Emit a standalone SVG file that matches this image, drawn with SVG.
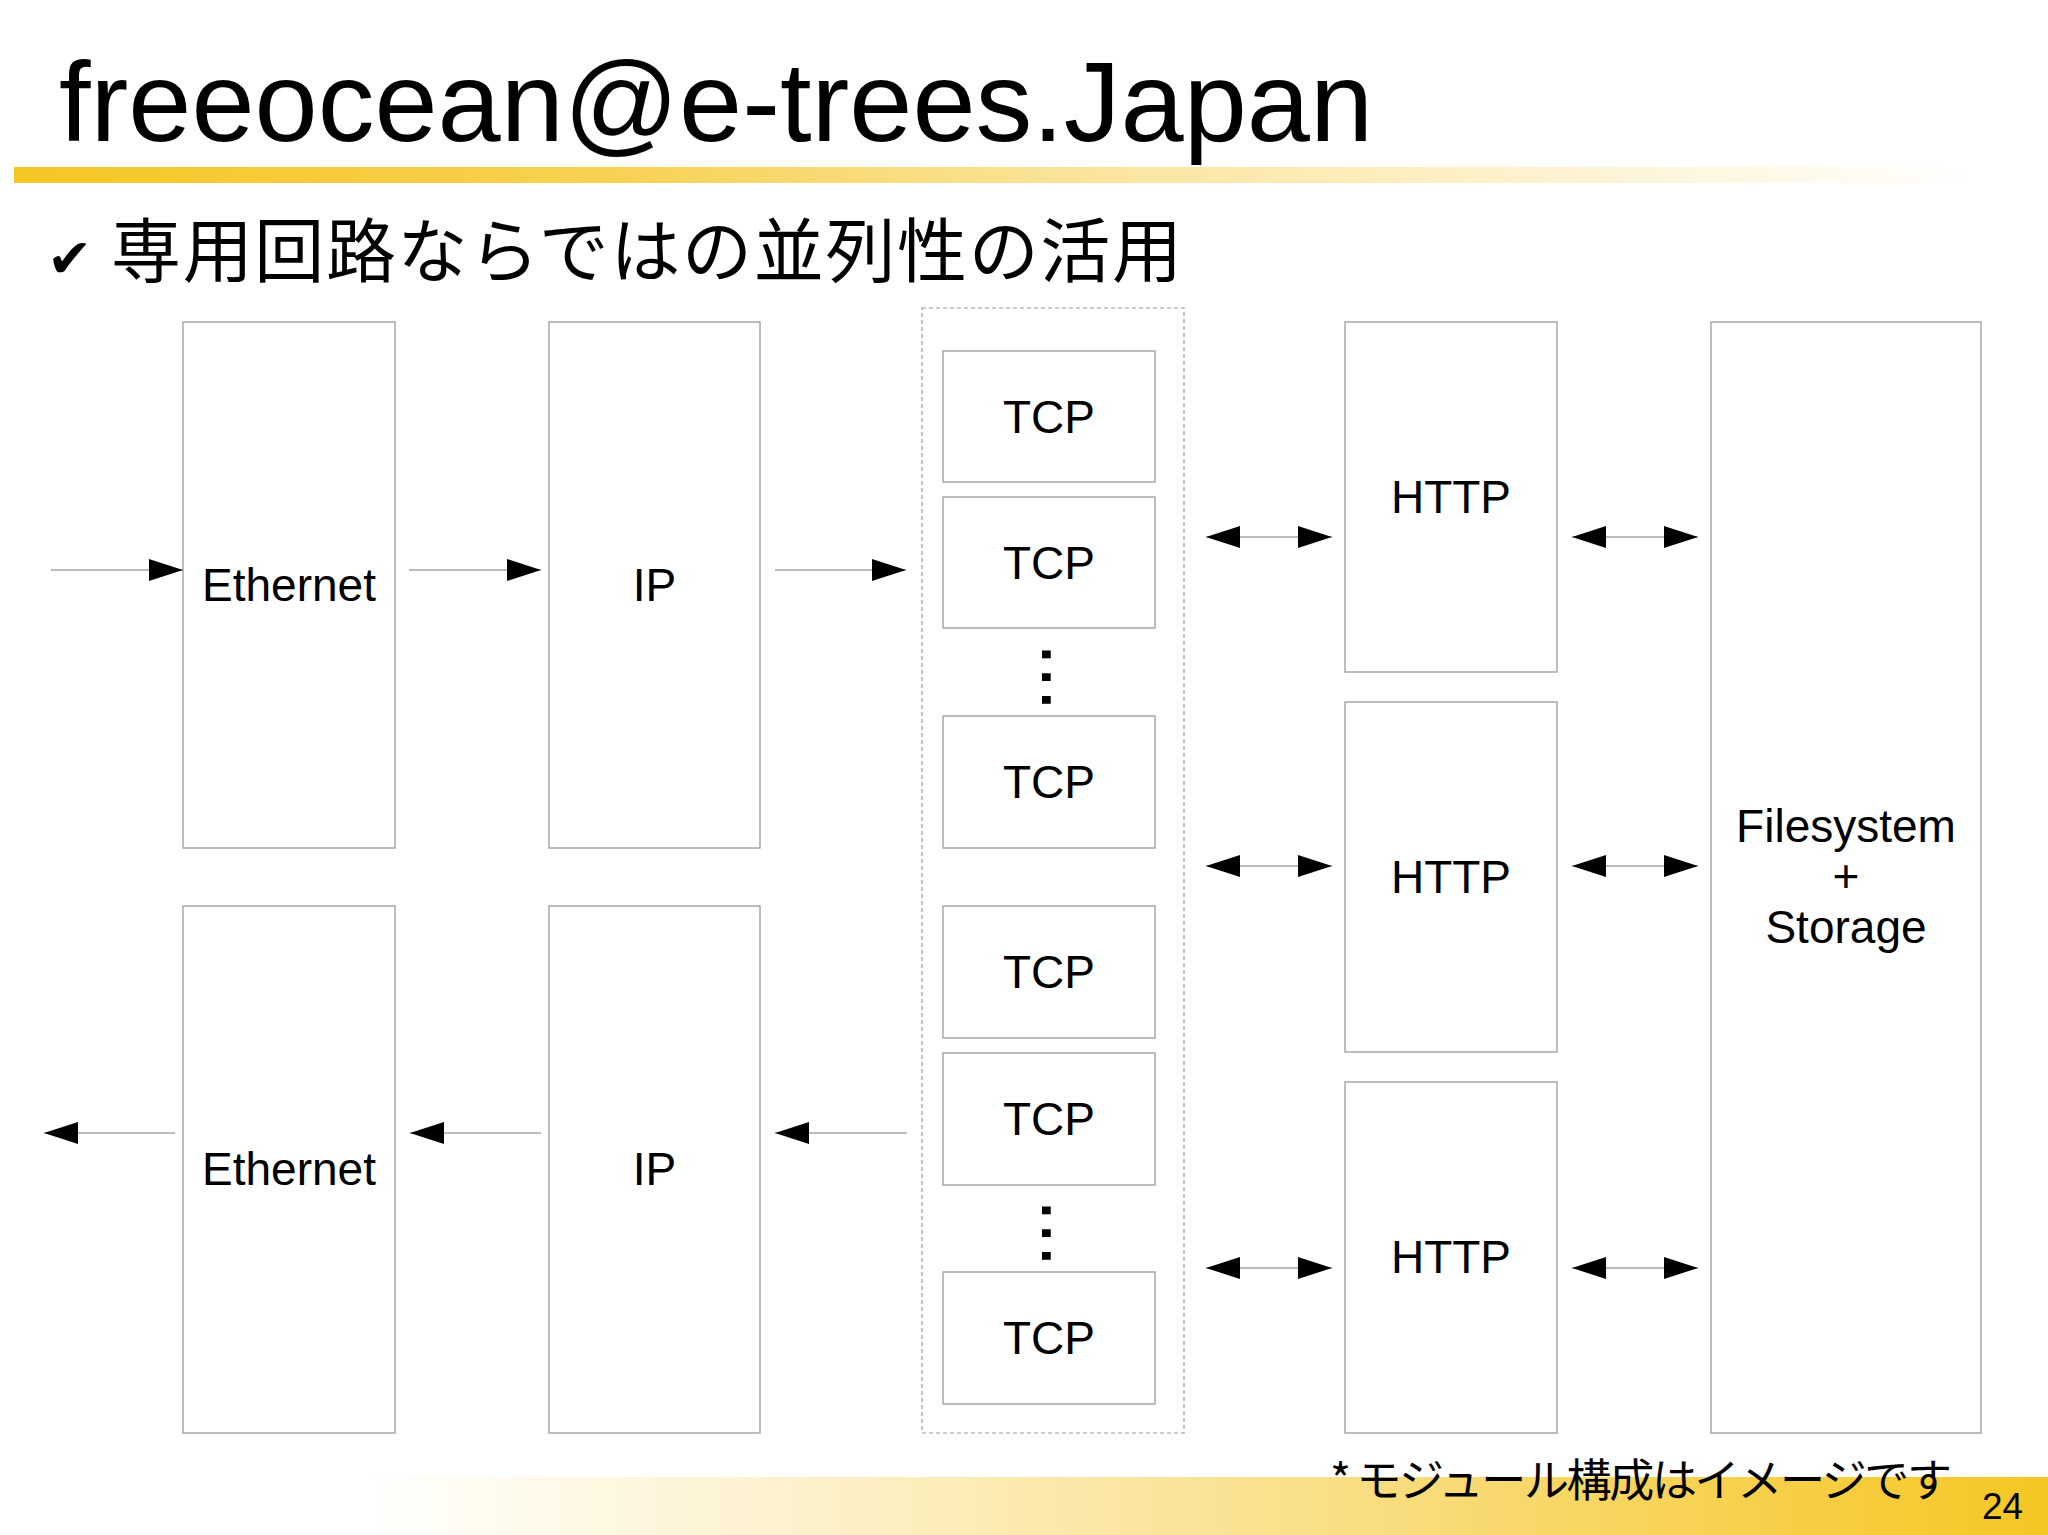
<svg xmlns="http://www.w3.org/2000/svg" width="2048" height="1535" viewBox="0 0 2048 1535">
<defs>
<style>
.box{fill:#ffffff;stroke:#9a9a9a;stroke-width:1.3}
.lbl{font-family:"Liberation Sans",Arial,sans-serif;font-size:46px;fill:#000;text-anchor:middle}
.con{stroke:#7a7a7a;stroke-width:1.2;fill:none}
.jp{font-family:"Noto Sans CJK JP","Noto Sans CJK SC",sans-serif;fill:#000}
</style>
<linearGradient id="topbar" x1="14" y1="0" x2="1995" y2="0" gradientUnits="userSpaceOnUse">
<stop offset="0" stop-color="#f5c623"/>
<stop offset="0.3" stop-color="#f7d152"/>
<stop offset="0.55" stop-color="#fae59e"/>
<stop offset="0.8" stop-color="#fdf4d6"/>
<stop offset="1" stop-color="#ffffff"/>
</linearGradient>
<linearGradient id="footbar" x1="353" y1="0" x2="2048" y2="0" gradientUnits="userSpaceOnUse">
<stop offset="0" stop-color="#ffffff"/>
<stop offset="0.3" stop-color="#fcefc4"/>
<stop offset="0.6" stop-color="#f9dd80"/>
<stop offset="1" stop-color="#f5c623"/>
</linearGradient>
<marker id="ah" markerUnits="userSpaceOnUse" markerWidth="35" markerHeight="23" refX="34" refY="11" orient="auto-start-reverse">
<path d="M0,0 L34,11 L0,22 Z" fill="#000"/>
</marker>
</defs>
<rect x="0" y="0" width="2048" height="1535" fill="#ffffff"/>
<rect x="14" y="167" width="1981" height="16" fill="url(#topbar)"/>
<rect x="353" y="1477" width="1695" height="58" fill="url(#footbar)"/>
<text x="59" y="141" font-family="'Liberation Sans',Arial,sans-serif" font-size="113.5" fill="#000">freeocean@e-trees.Japan</text>
<text x="47" y="277" font-family="'DejaVu Sans',sans-serif" font-size="54" fill="#000">✔</text>
<text x="111" y="277" class="jp" font-size="70" textLength="1071" lengthAdjust="spacing">専用回路ならではの並列性の活用</text>

<g id="eth-in"><rect class="box" x="183" y="322" width="212" height="526"/><text class="lbl" x="289" y="601">Ethernet</text></g>
<g id="ip-in"><rect class="box" x="549" y="322" width="211" height="526"/><text class="lbl" x="654.5" y="601">IP</text></g>
<g id="eth-out"><rect class="box" x="183" y="906" width="212" height="527"/><text class="lbl" x="289" y="1185">Ethernet</text></g>
<g id="ip-out"><rect class="box" x="549" y="906" width="211" height="527"/><text class="lbl" x="654.5" y="1185">IP</text></g>

<g id="tcp-group">
<rect x="922" y="308" width="262" height="1125" fill="none" stroke="#9a9a9a" stroke-width="1.2" stroke-dasharray="4,3"/>
<g id="tcp1"><rect class="box" x="943" y="351" width="212" height="131"/><text class="lbl" x="1049" y="433">TCP</text></g>
<g id="tcp2"><rect class="box" x="943" y="497" width="212" height="131"/><text class="lbl" x="1049" y="579">TCP</text></g>
<text x="1042" y="643" transform="rotate(90 1042 643)" font-family="'Liberation Sans',Arial,sans-serif" font-size="82" fill="#000">...</text>
<g id="tcp3"><rect class="box" x="943" y="716" width="212" height="132"/><text class="lbl" x="1049" y="798">TCP</text></g>
<g id="tcp4"><rect class="box" x="943" y="906" width="212" height="132"/><text class="lbl" x="1049" y="988">TCP</text></g>
<g id="tcp5"><rect class="box" x="943" y="1053" width="212" height="132"/><text class="lbl" x="1049" y="1135">TCP</text></g>
<text x="1042" y="1199" transform="rotate(90 1042 1199)" font-family="'Liberation Sans',Arial,sans-serif" font-size="82" fill="#000">...</text>
<g id="tcp6"><rect class="box" x="943" y="1272" width="212" height="132"/><text class="lbl" x="1049" y="1354">TCP</text></g>
</g>

<g id="http1"><rect class="box" x="1345" y="322" width="212" height="350"/><text class="lbl" x="1451" y="513">HTTP</text></g>
<g id="http2"><rect class="box" x="1345" y="702" width="212" height="350"/><text class="lbl" x="1451" y="893">HTTP</text></g>
<g id="http3"><rect class="box" x="1345" y="1082" width="212" height="351"/><text class="lbl" x="1451" y="1273">HTTP</text></g>

<g id="fs"><rect class="box" x="1711" y="322" width="270" height="1111"/>
<text class="lbl" x="1846" y="842">Filesystem</text>
<text class="lbl" x="1846" y="892">+</text>
<text class="lbl" x="1846" y="943">Storage</text></g>

<g id="connectors">
<line class="con" x1="51" y1="570" x2="183" y2="570" marker-end="url(#ah)"/>
<line class="con" x1="409" y1="570" x2="541" y2="570" marker-end="url(#ah)"/>
<line class="con" x1="775" y1="570" x2="906" y2="570" marker-end="url(#ah)"/>
<line class="con" x1="175" y1="1133" x2="44" y2="1133" marker-end="url(#ah)"/>
<line class="con" x1="541" y1="1133" x2="410" y2="1133" marker-end="url(#ah)"/>
<line class="con" x1="907" y1="1133" x2="775" y2="1133" marker-end="url(#ah)"/>
<line class="con" x1="1206" y1="537" x2="1332" y2="537" marker-start="url(#ah)" marker-end="url(#ah)"/>
<line class="con" x1="1206" y1="866" x2="1332" y2="866" marker-start="url(#ah)" marker-end="url(#ah)"/>
<line class="con" x1="1206" y1="1268" x2="1332" y2="1268" marker-start="url(#ah)" marker-end="url(#ah)"/>
<line class="con" x1="1572" y1="537" x2="1698" y2="537" marker-start="url(#ah)" marker-end="url(#ah)"/>
<line class="con" x1="1572" y1="866" x2="1698" y2="866" marker-start="url(#ah)" marker-end="url(#ah)"/>
<line class="con" x1="1572" y1="1268" x2="1698" y2="1268" marker-start="url(#ah)" marker-end="url(#ah)"/>
</g>

<text x="1330" y="1497" class="jp" font-size="45" textLength="622" lengthAdjust="spacing">* モジュール構成はイメージです</text>
<text x="1982" y="1519" font-family="'Liberation Sans',Arial,sans-serif" font-size="37" fill="#000">24</text>
</svg>
